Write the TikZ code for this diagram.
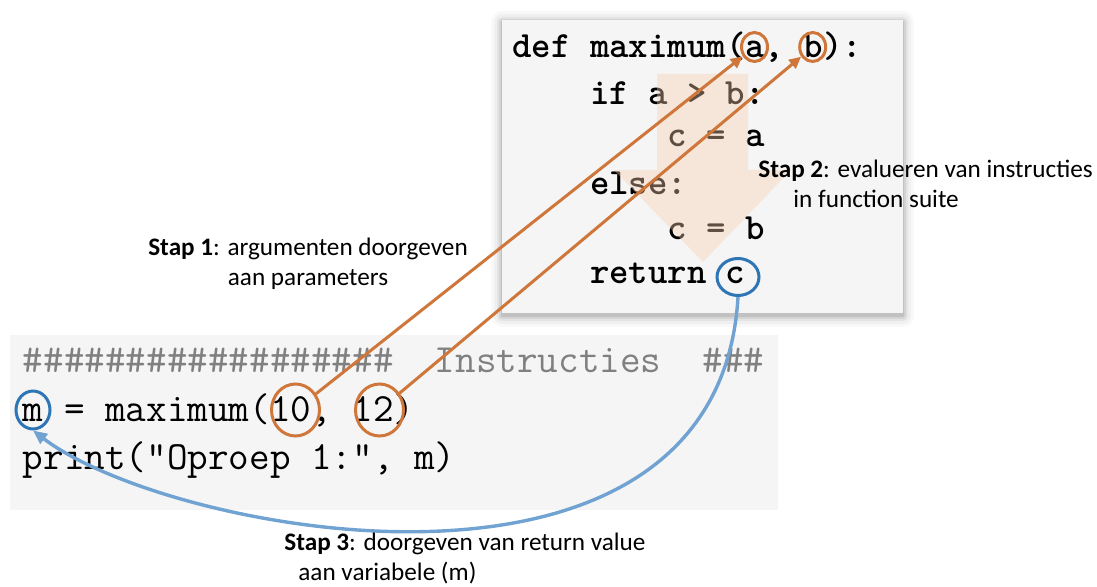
\documentclass[tikz,border=0pt]{standalone}
\usepackage{fontspec}
\newfontfamily\labelfont{Carlito}
\usetikzlibrary{arrows.meta,shapes.geometric}
\definecolor{codebg}{RGB}{245,245,245}
\definecolor{argorange}{RGB}{207,119,58}
\definecolor{retblue}{RGB}{46,117,182}
\definecolor{curveblue}{RGB}{112,162,210}
\definecolor{flowpeach}{RGB}{248,203,173}
\definecolor{commentgrey}{RGB}{128,128,128}
\tikzset{
  codeline/.style={anchor=west,inner sep=0pt,font=\fontsize{18.5}{20}\selectfont\ttfamily\bfseries},
  callline/.style={anchor=west,inner sep=0pt,font=\fontsize{20}{22}\selectfont\ttfamily},
  argring/.style={draw=argorange,line width=1.5pt,ellipse,inner sep=0pt},
  retring/.style={draw=retblue,line width=1.5pt,ellipse,inner sep=0pt},
  argline/.style={draw=argorange,line width=1.5pt,-{Triangle[length=6pt,width=5.5pt]}},
  retline/.style={draw=curveblue,line width=1.7pt,-{Triangle[length=7pt,width=6pt]}},
  steplabel/.style={font=\labelfont\fontsize{12.6}{15}\selectfont,inner sep=0pt}
}

\begin{document}
\begin{tikzpicture}[x=0.5pt,y=-0.5pt]
  \useasboundingbox (0,0) rectangle (1097,587);
  % function definition box with soft shadow
  \foreach \d/\o in {11/0.025,8/0.035,5/0.05,3/0.07,1/0.09} {
    \fill[black,opacity=\o,rounded corners=\d*0.5pt] ({502-\d},{20-\d+2}) rectangle ({903+\d},{313+\d+3});
  }
  \fill[codebg] (502,20) rectangle (903,313);
  \node[codeline] (def)  at (512,47)    {def maximum(a, b):};
  \node[codeline] (ifa)  at (589.6,93)  {if a > b:};
  \node[codeline] (ca1)  at (667.2,138) {c = a};
  \node[codeline] (els)  at (589.6,183) {else:};
  \node[codeline] (cb1)  at (667.2,228) {c = b};
  \node[codeline] (ret)  at (589.6,273) {return c};
  % flow through the suite
  \fill[flowpeach,opacity=0.38] (657,74) -- (748,74) -- (748,170) -- (791,170)
    -- (703,262) -- (614,170) -- (657,170) -- cycle;
  % call box
  \fill[codebg] (10,335) rectangle (778,510);
  \begin{scope}
    \clip (10,335) rectangle (778,510);
    \node[callline,text=commentgrey] (cmt) at (22.5,360)
      {\#\#\#\#\#\#\#\#\#\#\#\#\#\#\#\#\#\#\ \ Instructies\ \ \#\#\#};
    \node[callline] (call) at (22.5,410) {m = maximum(10, 12)};
    \node[callline] (prt)  at (22.5,460) {print("Oproep 1:", m)};
  \end{scope}
  % rings
  \node[argring,minimum width=13pt,minimum height=14.5pt] (pa) at (754.5,47) {};
  \node[argring,minimum width=13pt,minimum height=14.5pt] (pb) at (812.7,47) {};
  \node[retring,minimum width=21pt,minimum height=18.5pt] (rc) at (738,277) {};
  \node[retring,minimum width=17pt,minimum height=19pt] (rm) at (33,410) {};
  \node[argring,minimum width=24pt,minimum height=26pt] (a10) at (295.5,410) {};
  \node[argring,minimum width=24pt,minimum height=26pt] (a12) at (379.5,410) {};
  % connectors
  \draw[argline] (a10) -- (pa);
  \draw[argline] (a12) -- (pb);
  \draw[retline] (rc.south) .. controls +(-20,340) and (170,535) .. (rm.south);
  % labels
  \node[steplabel,align=center] (stap1) at (308,264)
    {\textbf{Stap 1}: argumenten doorgeven\\aan parameters};
  \node[steplabel,align=left,anchor=north west] (stap2) at (758,160)
    {\textbf{Stap 2}: evalueren van instructies\\\hspace*{17.5pt}in function suite};
  \node[steplabel,align=left,anchor=north west] (stap3) at (284,533)
    {\textbf{Stap 3}: doorgeven van return value\\\hspace*{7pt}aan variabele (m)};
\end{tikzpicture}
\end{document}
